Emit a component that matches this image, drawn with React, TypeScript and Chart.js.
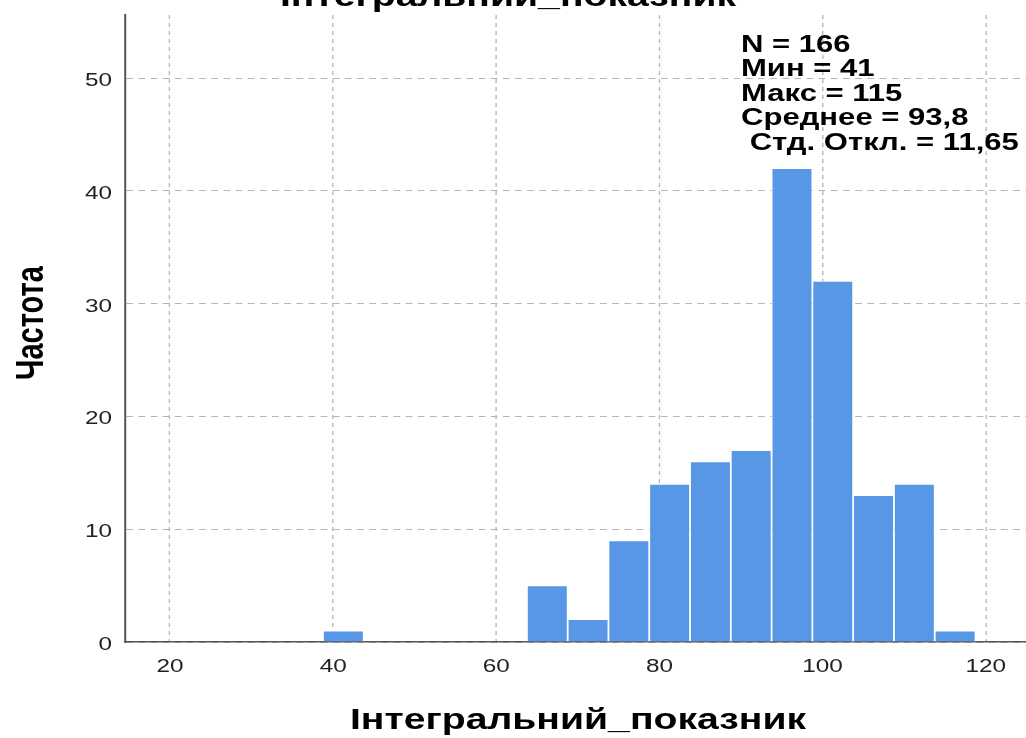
import React, { useEffect, useRef } from 'react';
import { Chart, registerables } from 'chart.js';

Chart.register(...registerables);

// ---- data ----
const binCenters = [41.25, 46.25, 51.25, 56.25, 61.25, 66.25, 71.25, 76.25, 81.25, 86.25, 91.25, 96.25, 101.25, 106.25, 111.25, 116.25];
const frequencies = [1, 0, 0, 0, 0, 5, 2, 9, 14, 16, 17, 42, 32, 13, 14, 1];
const xTicks = [20, 40, 60, 80, 100, 120];
const yTicks = [0, 10, 20, 30, 40, 50];
const chartTitle = 'Інтегральний_показник';
const xTitle = 'Інтегральний_показник';
const yTitle = 'Частота';
const statLines = ['N = 166', 'Мин = 41', 'Макс = 115', 'Среднее = 93,8', ' Стд. Откл. = 11,65'];

// ---- layout ----
const W = 1026;
const H = 738;
const S = 1.35; // horizontal stretch of the reference picture
const FONT = '"Liberation Sans", Arial, sans-serif';

const stretchPlugin = {
  id: 'stretch',
  beforeDraw(chart: any) {
    const ctx = chart.ctx;
    ctx.save();
    ctx.setTransform(S, 0, 0, 1, 0, 0);
  },
  afterDraw(chart: any) {
    const ctx = chart.ctx;
    ctx.fillStyle = '#000';
    ctx.textBaseline = 'alphabetic';
    ctx.textAlign = 'center';
    ctx.font = `bold 29px ${FONT}`;
    ctx.fillText(chartTitle, 508 / S, 6);
    ctx.fillText(xTitle, 578 / S, 729);
    ctx.save();
    ctx.translate(43 / S, 323);
    ctx.rotate(-Math.PI / 2);
    ctx.fillText(yTitle, 0, 0);
    ctx.restore();
    ctx.font = `bold 23px ${FONT}`;
    ctx.textAlign = 'left';
    statLines.forEach((t, i) => ctx.fillText(t, 741 / S, 51.7 + i * 24.5));
    ctx.restore();
  },
};

export default function App() {
  const ref = useRef<HTMLCanvasElement | null>(null);

  useEffect(() => {
    if (!ref.current) return;
    const tickFont = { size: 18, family: FONT };
    const chart = new Chart(ref.current, {
      type: 'bar',
      data: {
        datasets: [
          {
            data: binCenters.map((x, i) => ({ x, y: frequencies[i] })),
            backgroundColor: '#5797e5',
            borderColor: 'rgba(255,255,255,0.55)',
            borderWidth: 1,
            borderSkipped: 'bottom',
            barPercentage: 1,
            categoryPercentage: 1,
          } as any,
        ],
      },
      options: {
        animation: false,
        responsive: true,
        maintainAspectRatio: false,
        layout: { padding: { left: 125 / S - 40, right: W - W / S, top: 15, bottom: 56 } },
        plugins: {
          legend: { display: false },
          tooltip: { enabled: false },
          title: { display: false },
        },
        scales: {
          x: {
            type: 'linear',
            min: 14.48,
            max: 124.94,
            offset: false,
            afterBuildTicks: (s: any) => {
              s.ticks = xTicks.map((v) => ({ value: v }));
            },
            afterFit: (s: any) => {
              s.height = 40;
              s.paddingLeft = 0;
              s.paddingRight = 0;
            },
            grid: { color: '#b5b5b5', lineWidth: 1, drawTicks: false, offset: false },
            border: { display: true, color: '#555', width: 1.5, dash: [4, 4] },
            ticks: { font: tickFont, color: '#222', padding: 14, maxRotation: 0, autoSkip: false },
          },
          y: {
            type: 'linear',
            min: 0,
            max: 55.6,
            afterBuildTicks: (s: any) => {
              s.ticks = yTicks.map((v) => ({ value: v }));
            },
            afterFit: (s: any) => {
              s.width = 40;
              s.paddingTop = 0;
              s.paddingBottom = 0;
            },
            grid: { color: '#b5b5b5', lineWidth: 1, drawTicks: false },
            border: { display: true, color: '#555', width: 1.5, dash: [5, 4] },
            ticks: { font: tickFont, color: '#222', padding: 13 / S, labelOffset: 3 },
          },
        } as any,
      },
      plugins: [stretchPlugin],
    });
    return () => chart.destroy();
  }, []);

  return (
    <div style={{ position: 'absolute', left: 0, top: 0, width: W, height: H, background: '#fff' }}>
      <canvas ref={ref} />
    </div>
  );
}
